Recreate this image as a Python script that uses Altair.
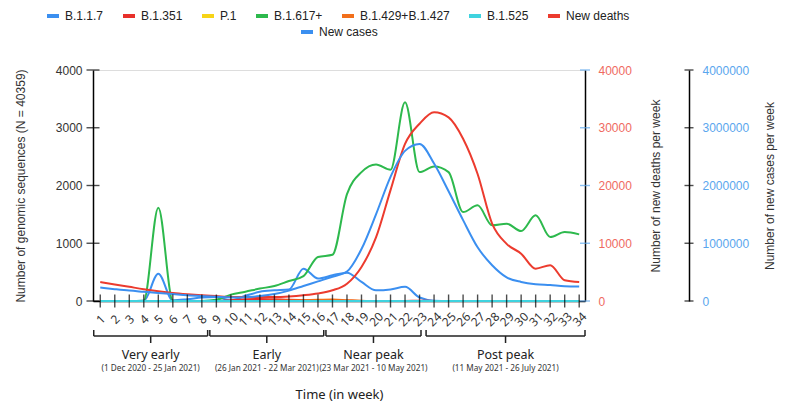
import altair as alt
import pandas as pd

weeks = list(range(1, 35))

b117 = [0, 0, 0, 5, 470, 10, 30, 60, 70, 10, 90, 160, 185, 200, 560, 390, 445, 490, 330, 185,
        200, 245, 60, 5, 0, 0, 0, 0, 0, 0, 0, 0, 0, 0]
b1351 = [0, 0, 0, 0, 0, 0, 0, 0, 0, 15, 30, 35, 30, 20, 15, 10, 10, 5, 0, 0,
         0, 0, 5, 0, 0, 0, 0, 0, 0, 0, 0, 0, 0, 0]
p1 = [0] * 34
b1617 = [0, 0, 0, 5, 1616, 5, 0, 0, 20, 110, 160, 215, 260, 346, 430, 762, 800, 1850, 2232, 2365,
         2273, 3440, 2232, 2330, 2232, 1540, 1656, 1310, 1339, 1211, 1483, 1107, 1194, 1154]
b1429 = [0, 0, 0, 0, 0, 0, 0, 0, 0, 0, 0, 0, 5, 10, 15, 20, 25, 15, 5, 0,
         0, 0, 0, 0, 0, 0, 0, 0, 0, 0, 0, 0, 0, 0]
b1525 = [0] * 34
new_deaths = [3290, 2850, 2450, 2050, 1700, 1400, 1180, 1000, 850, 700, 690, 690, 700, 800, 1000,
              1300, 1850, 3000, 5900, 11000, 19200, 27200, 30700, 32700, 31800, 28100, 22000,
              13400, 9900, 8200, 5600, 6200, 3600, 3300]
new_cases = [232000, 205000, 180000, 160000, 140000, 120000, 100000, 85000, 72000, 62000, 65000,
             85000, 120000, 180000, 260000, 340000, 420000, 510000, 900000, 1500000, 2150000,
             2600000, 2720000, 2380000, 1900000, 1400000, 930000, 620000, 410000, 330000, 290000,
             275000, 255000, 250000]

variant_names = ["B.1.1.7", "B.1.351", "P.1", "B.1.617+", "B.1.429+B.1.427", "B.1.525"]
legend_names = variant_names + ["New deaths"]
legend_colors = ["#3b8ff0", "#e8302a", "#f7d417", "#2db94d", "#f26f1b", "#3fd3df", "#ec3b2e"]
cases_name = "New cases"
cases_color = "#3b8ff0"

seq_ticks = [0, 1000, 2000, 3000, 4000]
death_ticks = [0, 10000, 20000, 30000, 40000]
case_ticks = [0, 1000000, 2000000, 3000000, 4000000]

period_names = ["Very early", "Early", "Near peak", "Post peak"]
period_dates = ["(1 Dec 2020 - 25 Jan 2021)", "(26 Jan 2021 - 22 Mar 2021)",
                "(23 Mar 2021 - 10 May 2021)", "(11 May 2021 - 26 July 2021)"]
period_lo = [0.55, 8.55, 16.55, 23.45]
period_hi = [8.4, 16.4, 23.1, 34.4]

# ---------------- data tables ----------------
rows = []
for name, vals in zip(variant_names, [b117, b1351, p1, b1617, b1429, b1525]):
    for w, v in zip(weeks, vals):
        rows.append({"week": w, "series": name, "value": v})
df_var = pd.DataFrame(rows)
df_deaths = pd.DataFrame({"week": weeks, "value": new_deaths, "series": "New deaths"})
df_cases = pd.DataFrame({"week": weeks, "value": new_cases, "series": cases_name})
df_weeks = pd.DataFrame({"week": weeks, "base": 0})
df_periods = pd.DataFrame({"name": period_names, "dates": period_dates,
                           "lo": period_lo, "hi": period_hi})
df_periods["mid"] = (df_periods["lo"] + df_periods["hi"]) / 2

W, H = 492, 231
AXF = "Liberation Sans"
BF = "Noto Sans"
XT = "Time (in week)"

xscale = alt.Scale(domain=[0.5, 34.4], nice=False, zero=False)
xaxis = alt.Axis(values=weeks, labelAngle=315, labelAlign="center", labelBaseline="middle",
                 labelPadding=18, ticks=False, tickSize=0, domain=True, domainColor="black",
                 domainWidth=1.5, labelFont=BF, labelFontSize=12, labelColor="#333",
                 labelOverlap=False, labelFlush=False, grid=False,
                 titleFont=BF, titleFontSize=13, titleFontWeight="normal",
                 titleColor="#222", titlePadding=60)

legend_common = dict(orient="none", direction="horizontal", title=None, symbolType="stroke",
                     symbolStrokeWidth=4, symbolSize=144, labelFont=AXF, labelFontSize=12,
                     labelColor="#222", columnPadding=11, labelOffset=4)


def xenc(field):
    return alt.X(field, scale=xscale, title=XT, axis=xaxis)


variants = alt.Chart(df_var).mark_line(interpolate="monotone", strokeWidth=2).encode(
    x=xenc("week:Q"),
    y=alt.Y("value:Q", scale=alt.Scale(domain=[0, 4000], nice=False),
            axis=alt.Axis(orient="left", values=seq_ticks, format="d", ticks=False, tickSize=0,
                          labelPadding=11, domainColor="black", domainWidth=1.5,
                          labelFont=AXF, labelFontSize=12, labelColor="#333", grid=False,
                          title="Number of genomic sequences (N = 40359)", titleFont=AXF,
                          titleFontSize=12, titleFontWeight="normal", titleColor="#333",
                          titlePadding=28)),
    color=alt.Color("series:N", scale=alt.Scale(domain=legend_names, range=legend_colors),
                    legend=alt.Legend(legendX=-48, legendY=-62, columns=7, **legend_common)),
)

deaths = alt.Chart(df_deaths).mark_line(interpolate="monotone", strokeWidth=2).encode(
    x=xenc("week:Q"),
    y=alt.Y("value:Q", scale=alt.Scale(domain=[0, 40000], nice=False),
            axis=alt.Axis(orient="right", values=death_ticks, format="d", ticks=False,
                          tickSize=0, labelPadding=13, domainColor="black", domainWidth=1.5,
                          labelFont=AXF, labelFontSize=12, labelColor="#ef6a5f", grid=False,
                          title="Number of new deaths per week", titleAngle=270, titleFont=AXF,
                          titleFontSize=12, titleFontWeight="normal", titleColor="#333",
                          titlePadding=31)),
    color=alt.Color("series:N"),
)

cases = alt.Chart(df_cases).mark_line(interpolate="monotone", strokeWidth=2).encode(
    x=xenc("week:Q"),
    y=alt.Y("value:Q", scale=alt.Scale(domain=[0, 4000000], nice=False),
            axis=alt.Axis(orient="right", offset=104, values=case_ticks, format="d",
                          ticks=False, tickSize=0, labelPadding=13, domainColor="black",
                          domainWidth=1.5, labelFont=AXF, labelFontSize=12,
                          labelColor="#5aa6ee", grid=False,
                          title="Number of new cases per week", titleAngle=270, titleFont=AXF,
                          titleFontSize=12, titleFontWeight="normal", titleColor="#333",
                          titlePadding=28)),
    stroke=alt.Stroke("series:N", scale=alt.Scale(domain=[cases_name], range=[cases_color]),
                      legend=alt.Legend(legendX=206, legendY=-46, **legend_common)),
)

xticks = alt.Chart(df_weeks).mark_tick(orient="vertical", size=13, thickness=1.4,
                                       color="black").encode(
    x=xenc("week:Q"),
    y=alt.Y("base:Q", scale=alt.Scale(domain=[0, 4000], nice=False), axis=None),
)

df_seq = pd.DataFrame({"v": seq_ticks})
df_dt = pd.DataFrame({"v": death_ticks})
df_ct = pd.DataFrame({"v": case_ticks})

lticks = alt.Chart(df_seq).mark_tick(orient="horizontal", size=13, thickness=1.4,
                                     color="black").encode(
    x=alt.value(0),
    y=alt.Y("v:Q", scale=alt.Scale(domain=[0, 4000], nice=False), axis=None),
)
dticks = alt.Chart(df_dt).mark_tick(orient="horizontal", size=10, thickness=1.4,
                                    color="#5aa6ee").encode(
    x=alt.value(W),
    y=alt.Y("v:Q", scale=alt.Scale(domain=[0, 40000], nice=False), axis=None),
)
cticks = alt.Chart(df_ct).mark_tick(orient="horizontal", size=9, thickness=1.4,
                                    color="black").encode(
    x=alt.value(W + 104),
    y=alt.Y("v:Q", scale=alt.Scale(domain=[0, 4000000], nice=False), axis=None),
)

pbase = alt.Chart(df_periods)
br_h = pbase.mark_rule(color="#222", strokeWidth=1.5).encode(
    x=xenc("lo:Q"), x2="hi:Q", y=alt.value(266))
br_l = pbase.mark_rule(color="#222", strokeWidth=1.5).encode(
    x=xenc("lo:Q"), y=alt.value(260), y2=alt.value(266))
br_r = pbase.mark_rule(color="#222", strokeWidth=1.5).encode(
    x=xenc("hi:Q"), y=alt.value(260), y2=alt.value(266))
br_c = pbase.mark_rule(color="#222", strokeWidth=1.5).encode(
    x=xenc("mid:Q"), y=alt.value(266), y2=alt.value(273))
br_name = pbase.mark_text(font=BF, fontSize=12.5, color="#222", baseline="middle").encode(
    x=xenc("mid:Q"), y=alt.value(285), text="name:N")
br_date = pbase.mark_text(font=BF, fontSize=8.2, color="#333", baseline="middle").encode(
    x=xenc("mid:Q"), y=alt.value(299), text="dates:N")

chart = alt.layer(
    variants, deaths, cases, xticks, lticks, dticks, cticks,
    br_h, br_l, br_r, br_c, br_name, br_date
).resolve_scale(y="independent").properties(
    width=W, height=H,
    padding={"left": 6, "top": 0, "right": 5, "bottom": 5},
).configure_view(stroke=None).configure(background="white")

chart.save("out.html", embed_options={"renderer": "svg", "actions": False})
